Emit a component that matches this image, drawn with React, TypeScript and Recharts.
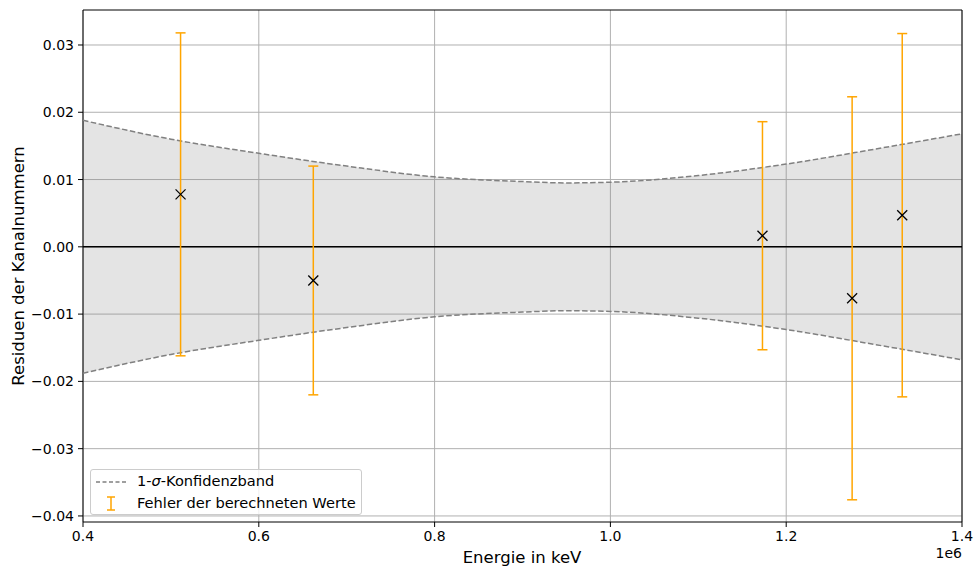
import * as React from 'react';
import {
  ComposedChart,
  Area,
  Line,
  Scatter,
  ErrorBar,
  XAxis,
  YAxis,
  CartesianGrid,
  ReferenceLine,
  ReferenceArea,
  Label,
} from 'recharts';

// measured lines (energy) and their residuals
const energies = [511000, 662000, 1173000, 1275000, 1332000];
const residuals = [0.0078, -0.005, 0.00165, -0.00765, 0.0047];
const residualErrors = [0.024, 0.017, 0.01695, 0.02995, 0.027];

// 1-sigma confidence band (half width, symmetric about 0)
const bandEnergies = [400000, 500000, 600000, 700000, 800000, 900000, 950000, 1000000, 1100000, 1200000, 1300000, 1400000];
const bandHalfWidth = [0.0188, 0.016, 0.0139, 0.012, 0.0104, 0.0097, 0.0095, 0.0096, 0.0106, 0.0123, 0.0145, 0.0168];

const xTicks = [400000, 600000, 800000, 1000000, 1200000, 1400000];
const yTicks = [-0.04, -0.03, -0.02, -0.01, 0, 0.01, 0.02, 0.03];

const FONT = '"DejaVu Sans", sans-serif';
const ORANGE = '#ffa500';

const points = energies.map((e, i) => ({ energy: e, res: residuals[i], err: residualErrors[i] }));
const band = bandEnergies.map((e, i) => ({
  energy: e,
  upper: bandHalfWidth[i],
  lower: -bandHalfWidth[i],
}));

const fmtY = (v: number) => {
  const s = Math.abs(v).toFixed(2);
  return v < -1e-9 ? '\u2212' + s : s;
};
const fmtX = (v: number) => (v / 1e6).toFixed(1);

const XMarker = (props: any) => {
  const { cx, cy } = props;
  if (cx == null || cy == null) return null;
  const r = 5;
  return (
    <g stroke="#000" strokeWidth={1.3}>
      <line x1={cx - r} y1={cy - r} x2={cx + r} y2={cy + r} />
      <line x1={cx - r} y1={cy + r} x2={cx + r} y2={cy - r} />
    </g>
  );
};

const LegendBox = () => (
  <div
    style={{
      position: 'absolute',
      left: 90,
      top: 469,
      width: 272,
      height: 46,
      boxSizing: 'border-box',
      border: '1px solid #cccccc',
      borderRadius: 3,
      background: 'rgba(255,255,255,0.8)',
      fontFamily: FONT,
      fontSize: 14.6,
      color: '#000',
    }}
  >
    <svg width={40} height={46} style={{ position: 'absolute', left: 0, top: 0 }}>
      <line x1={5} y1={12} x2={35} y2={12} stroke="#808080" strokeWidth={1.5} strokeDasharray="4 2.5" />
      <g stroke={ORANGE} strokeWidth={1.5}>
        <line x1={20} y1={27} x2={20} y2={40} />
        <line x1={16} y1={27} x2={24} y2={27} />
        <line x1={16} y1={40} x2={24} y2={40} />
      </g>
    </svg>
    <div style={{ position: 'absolute', left: 46, top: 2, lineHeight: '18px', whiteSpace: 'nowrap' }}>
      1-<i>σ</i>-Konfidenzband
    </div>
    <div style={{ position: 'absolute', left: 46, top: 24, lineHeight: '18px', whiteSpace: 'nowrap' }}>
      Fehler der berechneten Werte
    </div>
  </div>
);

const App = () => {
  return (
    <div style={{ position: 'absolute', left: 0, top: 0, width: 975, height: 567 }}>
      <ComposedChart width={975} height={567} margin={{ top: 10, right: 13, bottom: 0, left: 13 }}>
        <CartesianGrid stroke="#b0b0b0" strokeWidth={1} horizontalValues={yTicks} verticalValues={xTicks} />
        <XAxis
          dataKey="energy"
          type="number"
          domain={[400000, 1400000]}
          ticks={xTicks}
          tickFormatter={fmtX}
          allowDataOverflow
          height={45}
          tickSize={5}
          tickMargin={4}
          axisLine={false}
          tickLine={{ stroke: '#000' }}
          tick={{ fill: '#000', fontSize: 14, fontFamily: FONT }}
        >
          <Label
            content={() => (
              <g fontFamily={FONT} fill="#000">
                <text x={522} y={563} fontSize={16.5} textAnchor="middle">
                  Energie in keV
                </text>
                <text x={962} y={558} fontSize={14} textAnchor="end">
                  1e6
                </text>
              </g>
            )}
          />
        </XAxis>
        <YAxis
          type="number"
          domain={[-0.0409, 0.0352]}
          ticks={yTicks}
          tickFormatter={fmtY}
          allowDataOverflow
          width={70}
          tickSize={5}
          tickMargin={4}
          axisLine={false}
          tickLine={{ stroke: '#000' }}
          tick={{ fill: '#000', fontSize: 14, fontFamily: FONT }}
        >
          <Label
            content={() => (
              <text
                x={18}
                y={266}
                transform="rotate(-90 18 266)"
                textAnchor="middle"
                dominantBaseline="central"
                fontFamily={FONT}
                fontSize={16.5}
                fill="#000"
              >
                Residuen der Kanalnummern
              </text>
            )}
          />
        </YAxis>
        <Area
          data={band}
          dataKey={(d: any) => [d.lower, d.upper]}
          type="monotone"
          stroke="none"
          fill="#808080"
          fillOpacity={0.21}
          isAnimationActive={false}
          legendType="none"
        />
        <Line
          data={band}
          dataKey="upper"
          type="monotone"
          stroke="#808080"
          strokeWidth={1.5}
          strokeDasharray="5.5 2.5"
          dot={false}
          activeDot={false}
          isAnimationActive={false}
        />
        <Line
          data={band}
          dataKey="lower"
          type="monotone"
          stroke="#808080"
          strokeWidth={1.5}
          strokeDasharray="5.5 2.5"
          dot={false}
          activeDot={false}
          isAnimationActive={false}
        />
        <ReferenceLine y={0} stroke="#000" strokeWidth={1.5} />
        <Scatter data={points} dataKey="res" shape={XMarker} isAnimationActive={false}>
          <ErrorBar dataKey="err" direction="y" width={5} stroke={ORANGE} strokeWidth={1.5} />
        </Scatter>
        <ReferenceArea
          x1={400000}
          x2={1400000}
          y1={-0.0409}
          y2={0.0352}
          fill="none"
          stroke="#000"
          strokeWidth={1}
        />
      </ComposedChart>
      <LegendBox />
    </div>
  );
};

export default App;
